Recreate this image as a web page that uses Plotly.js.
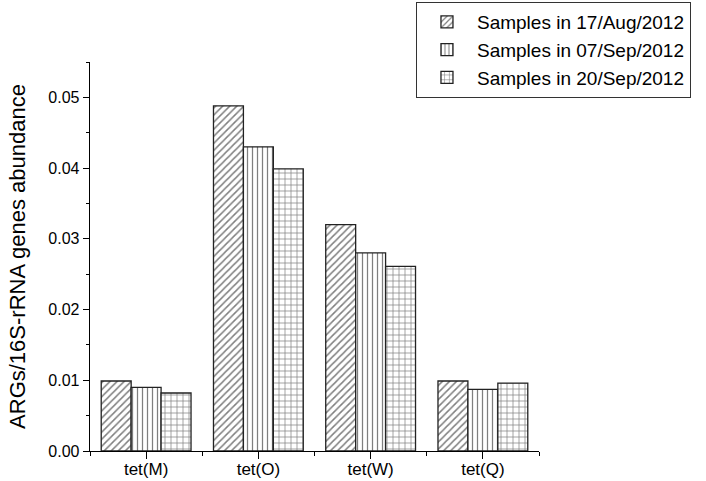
<!DOCTYPE html>
<html>
<head>
<meta charset="utf-8">
<script src="https://cdn.plot.ly/plotly-3.0.1.min.js"></script>
<style>html,body{margin:0;padding:0;background:#fff;}#chart{width:706px;height:481px;}</style>
</head>
<body>
<div id="chart"></div>
<script>
const categories = ["tet(M)", "tet(O)", "tet(W)", "tet(Q)"];
const seriesNames = ["Samples in 17/Aug/2012", "Samples in 07/Sep/2012", "Samples in 20/Sep/2012"];
const aug17 = [0.0099, 0.0488, 0.0320, 0.0099];
const sep07 = [0.0090, 0.0430, 0.0280, 0.0087];
const sep20 = [0.0082, 0.0399, 0.0261, 0.0096];
const yTickVals = [0, 0.01, 0.02, 0.03, 0.04, 0.05];

const xIdx = categories.map((c, i) => i);
const patterns = [
  {shape: "/", size: 5, solidity: 0.3},
  {shape: "|", size: 5, solidity: 0.25},
  {shape: "+", size: 6, solidity: 0.22}
];
const series = [aug17, sep07, sep20];
const traces = series.map((vals, k) => ({
  type: "bar",
  x: xIdx,
  y: vals,
  name: seriesNames[k],
  marker: {
    color: "#ffffff",
    line: {color: "#222", width: 1.3},
    pattern: Object.assign({fgcolor: "#000", bgcolor: "#fff", fillmode: "overlay"}, patterns[k])
  }
}));

const layout = {
  width: 706, height: 481,
  margin: {l: 90, r: 167, t: 62, b: 30, autoexpand: false},
  paper_bgcolor: "#fff", plot_bgcolor: "#fff",
  font: {family: "Liberation Sans, Arial, sans-serif", color: "#000"},
  barmode: "group", bargap: 0.2, bargroupgap: 0,
  showlegend: true,
  legend: {
    x: 0.726, y: 1.154, xanchor: "left", yanchor: "top",
    bordercolor: "#333", borderwidth: 1, bgcolor: "#fff",
    font: {size: 19}, tracegroupgap: 0, itemwidth: 50
  },
  xaxis: {
    range: [-0.5, 3.5], automargin: false,
    tickvals: xIdx, ticktext: categories,
    showline: true, linecolor: "#000", linewidth: 1.3,
    ticks: "outside", ticklen: 7, tickcolor: "#000",
    minor: {tick0: 0.5, dtick: 1, ticks: "outside", ticklen: 4, tickcolor: "#000"},
    showgrid: false, zeroline: false,
    tickfont: {size: 17}, ticklabelstandoff: -5
  },
  yaxis: {
    range: [0, 0.055], automargin: false,
    tickvals: yTickVals, tickformat: ".2f",
    showline: true, linecolor: "#000", linewidth: 1.3,
    ticks: "outside", ticklen: 6, tickcolor: "#000",
    minor: {dtick: 0.005, ticks: "outside", ticklen: 3, tickcolor: "#000"},
    showgrid: false, zeroline: false,
    tickfont: {size: 16},
    title: {text: "ARGs/16S-rRNA genes abundance", font: {size: 22}, standoff: 16}
  }
};

Plotly.newPlot("chart", traces, layout, {displayModeBar: false, staticPlot: true});
</script>
</body>
</html>
